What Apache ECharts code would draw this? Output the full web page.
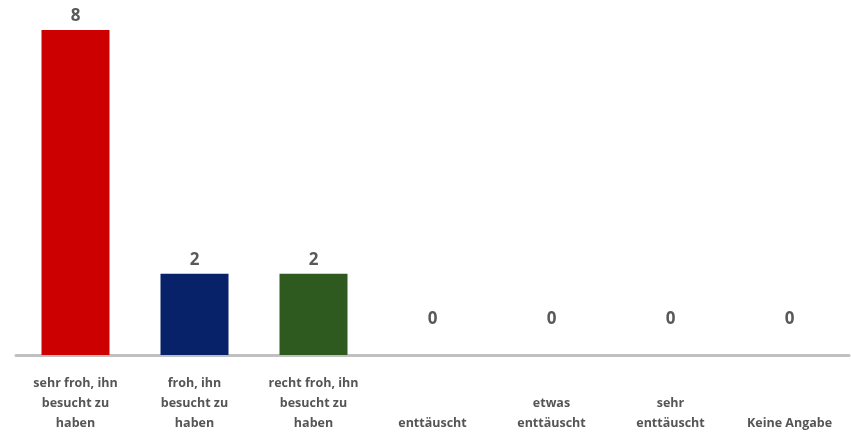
<!DOCTYPE html>
<html>
<head>
<meta charset="utf-8">
<script src="https://cdn.jsdelivr.net/npm/echarts@6/dist/echarts.min.js"></script>
<style>
  html, body { margin: 0; padding: 0; background: #ffffff; }
  #chart { width: 851px; height: 432px; }
</style>
</head>
<body>
<div id="chart"></div>
<script>
// Answers to "how did you feel after the visit"
const categories = [
  'sehr froh, ihn\nbesucht zu\nhaben',
  'froh, ihn\nbesucht zu\nhaben',
  'recht froh, ihn\nbesucht zu\nhaben',
  'enttäuscht',
  'etwas\nenttäuscht',
  'sehr\nenttäuscht',
  'Keine Angabe'
];
const counts = [8, 2, 2, 0, 0, 0, 0];
const barColors = ['#cc0000', '#08226a', '#2f5a1f', '#999999', '#999999', '#999999', '#999999'];

const chart = echarts.init(document.getElementById('chart'), null, { renderer: 'canvas' });

const seriesData = counts.map((v, i) => ({
  value: v,
  itemStyle: { color: barColors[i] },
  // zero counts get their label lifted off the baseline
  label: v === 0 ? { offset: [0, -22] } : undefined
}));

chart.setOption({
  animation: false,
  backgroundColor: '#ffffff',
  grid: { left: 16, right: 2, top: 30, bottom: 77, outerBoundsMode: 'none' },
  xAxis: {
    type: 'category',
    data: categories,
    axisLine: { lineStyle: { color: '#c0c0c0', width: 3 } },
    axisTick: { show: false },
    axisLabel: {
      interval: 0,
      color: '#555555',
      fontFamily: 'Open Sans',
      fontWeight: 700,
      fontSize: 12.5,
      lineHeight: 20,
      verticalAlign: 'bottom',
      margin: 78
    }
  },
  yAxis: {
    type: 'value',
    min: 0,
    max: 8,
    show: false,
    splitLine: { show: false }
  },
  series: [{
    type: 'bar',
    data: seriesData,
    barWidth: 68,
    label: {
      show: true,
      position: 'top',
      distance: 5,
      color: '#595959',
      fontFamily: 'Open Sans',
      fontWeight: 700,
      fontSize: 17
    }
  }]
});
</script>
</body>
</html>
